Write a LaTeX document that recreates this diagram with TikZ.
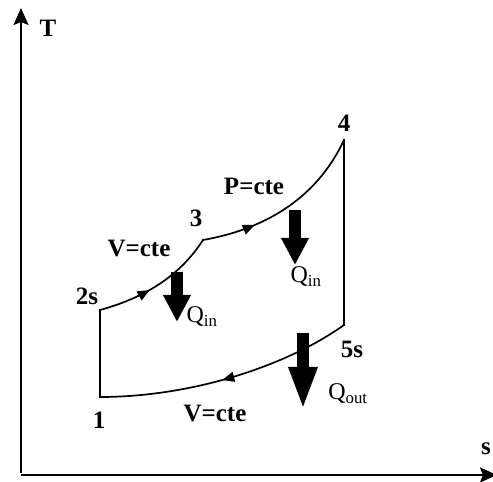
\documentclass[tikz,border=0pt]{standalone}
\usepackage{fontspec}
\setmainfont{Liberation Serif}
\usetikzlibrary{arrows.meta,decorations.markings}
\newcommand{\labfont}{\fontsize{25}{27}\selectfont}
\newcommand{\qfont}{\fontsize{24}{26}\selectfont}

\begin{document}
\begin{tikzpicture}[x=1pt,y=1pt,>=Stealth]
  \clip (0,0) rectangle (493,482);
  \tikzset{
    axis/.style={line width=2pt,-{Stealth[length=17pt,width=15pt,inset=3pt]}},
    cycline/.style={line width=1.7pt,line cap=rect},
    flow/.style={postaction={decorate},decoration={markings,mark=at position #1 with {\arrow{Triangle[length=12pt,width=10pt]}}}},
    heat/.style={line width=12pt,-{Triangle[length=#1,width=26pt]}},
    heat/.default=27pt,
    pt/.style={font=\bfseries\labfont,inner sep=0pt},
    qlab/.style={font=\qfont,inner sep=0pt}
  }
  % axes
  \coordinate (o) at (21,7);
  \coordinate (ttop) at (21,474);
  \coordinate (send) at (497,7);
  \draw[axis] (21,9) -- (ttop);
  \draw[axis] (o) -- (send);
  \node[pt] (tlab) at (48,454) {T};
  \node[pt] (slab) at (486,33) {s};

  % cycle states
  \coordinate (s1) at (100,85);
  \coordinate (s2) at (100,172);
  \coordinate (s3) at (203,242);
  \coordinate (s4) at (344,342);
  \coordinate (s5) at (344,157);

  \draw[cycline] (s1) -- (s2);
  \draw[cycline,flow=0.42] (s2) .. controls (140,183) and (178,203) .. (s3);
  \draw[cycline,flow=0.3] (s3) .. controls (260,252) and (315,280) .. (s4);
  \draw[cycline] (s4) -- (s5);
  \draw[cycline,flow=0.52] (s5) .. controls (285,115) and (190,85) .. (s1);

  \node[pt] (l1) at (99,62) {1};
  \node[pt] (l2) at (87,186) {2s};
  \node[pt] (l3) at (196,264) {3};
  \node[pt] (l4) at (344,359) {4};
  \node[pt] (l5) at (352,133) {5s};
  \node[pt] (vtop) at (139,233) {V=cte};
  \node[pt] (pmid) at (254,296) {P=cte};
  \node[pt] (vbot) at (215,68) {V=cte};

  % heat flows
  \coordinate (qa1) at (177,210);
  \coordinate (qb1) at (177,160);
  \coordinate (qa2) at (295,272);
  \coordinate (qb2) at (295,217);
  \coordinate (qa3) at (303,149);
  \coordinate (qb3) at (303,72);
  \draw[heat] (qa1) -- (qb1);
  \draw[heat] (qa2) -- (qb2);
  \draw[heat=43pt] (qa3) -- (qb3);
  \node[qlab] (qin1) at (202,165) {Q\textsubscript{in}};
  \node[qlab] (qin2) at (306,205) {Q\textsubscript{in}};
  \node[qlab] (qout) at (348,88) {Q\textsubscript{out}};
\end{tikzpicture}
\end{document}
